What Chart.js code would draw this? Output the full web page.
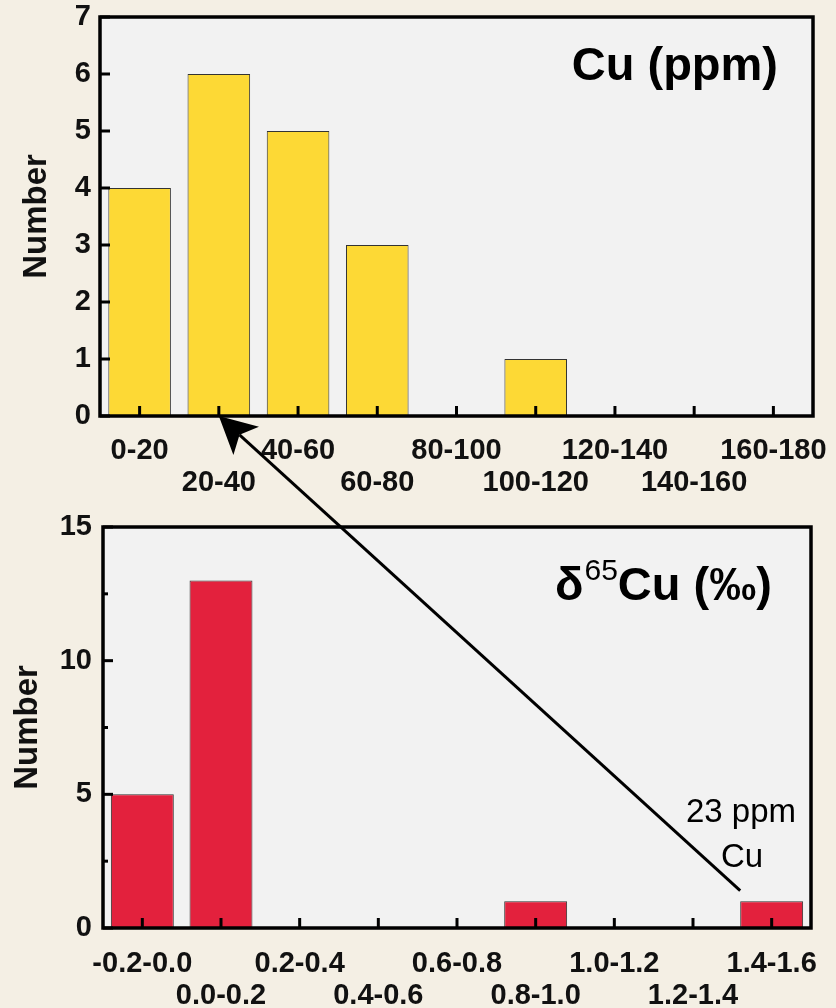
<!DOCTYPE html>
<html>
<head>
<meta charset="utf-8">
<script src="https://cdn.jsdelivr.net/npm/chart.js@4/dist/chart.umd.min.js"></script>
<style>
  html, body { margin: 0; padding: 0; background: #f4efe4; }
  #wrap { position: relative; width: 836px; height: 1008px; }
  canvas { position: absolute; left: 0; }
  #c1 { top: 0; }
  #c2 { top: 500px; }
  #ov { top: 0; pointer-events: none; }
</style>
</head>
<body>
<div id="wrap">
  <canvas id="c1" width="836" height="500"></canvas>
  <canvas id="c2" width="836" height="508"></canvas>
  <canvas id="ov" width="836" height="1008"></canvas>
</div>
<script>
// ---- data ----
const cuCategories = ['0-20', '20-40', '40-60', '60-80', '80-100', '100-120', '120-140', '140-160', '160-180'];
const cuCounts = [4, 6, 5, 3, 0, 1, 0, 0, 0];
const cuYMax = 7;
const cuYStep = 1;

const deltaCategories = ['-0.2-0.0', '0.0-0.2', '0.2-0.4', '0.4-0.6', '0.6-0.8', '0.8-1.0', '1.0-1.2', '1.2-1.4', '1.4-1.6'];
const deltaCounts = [5, 13, 0, 0, 0, 1, 0, 0, 1];
const deltaYMax = 15;
const deltaYMajor = 5;
const deltaYMinor = 2.5;

const cuTitle = 'Cu (ppm)';
const deltaTitleParts = ['δ', '65', 'Cu (‰)'];
const noteLines = ['23 ppm', 'Cu'];
const arrowTo = { x: 1, y: 0 };      // top chart, at 20-40 bin
const arrowFrom = { x: 7.6, y: 1.4 }; // bottom chart

// ---- styles ----
const FONT = '"Liberation Sans", Arial, Helvetica, sans-serif';
const PLOT_BG = '#f2f2f2';
const YELLOW = '#fdd935';
const RED = '#e3213d';

function stagger(labels) {
  return function (val, idx) {
    const l = labels[idx];
    return idx % 2 === 0 ? [l, ''] : ['', l];
  };
}

function framePlugin(opts) {
  return {
    id: 'frame',
    beforeDatasetsDraw(chart) {
      const { ctx, chartArea: a } = chart;
      ctx.save();
      ctx.fillStyle = PLOT_BG;
      ctx.fillRect(a.left, a.top, a.right - a.left, a.bottom - a.top);
      ctx.restore();
    },
    afterDatasetsDraw(chart) {
      const { ctx, chartArea: a, scales } = chart;
      ctx.save();
      ctx.strokeStyle = '#000';
      ctx.lineWidth = 3;
      ctx.lineCap = 'butt';
      for (let i = 0; i < chart.data.labels.length; i++) {
        const x = scales.x.getPixelForValue(i);
        ctx.beginPath();
        ctx.moveTo(x, a.bottom);
        ctx.lineTo(x, a.bottom - 10);
        ctx.stroke();
      }
      for (const t of opts.yTicks) {
        const y = scales.y.getPixelForValue(t.v);
        ctx.beginPath();
        ctx.moveTo(a.left, y);
        ctx.lineTo(a.left + t.len, y);
        ctx.stroke();
      }
      ctx.lineWidth = 3.5;
      ctx.strokeRect(a.left, a.top, a.right - a.left, a.bottom - a.top);
      ctx.restore();
      if (opts.extra) opts.extra(chart);
    }
  };
}

function baseOptions(o) {
  return {
    responsive: false,
    animation: false,
    devicePixelRatio: 1,
    layout: { padding: o.padding },
    plugins: { legend: { display: false }, tooltip: { enabled: false } },
    scales: {
      x: {
        type: 'category',
        grid: { display: false, drawTicks: false },
        border: { display: false },
        ticks: {
          autoSkip: false,
          maxRotation: 0,
          minRotation: 0,
          padding: o.xPad,
          color: '#111',
          font: { family: FONT, size: 29, weight: 'bold', lineHeight: 1.1 },
          callback: stagger(o.labels)
        },
        afterFit(s) { s.height = o.xHeight; s.paddingLeft = 0; s.paddingRight = 0; }
      },
      y: {
        min: 0,
        max: o.yMax,
        grid: { display: false, drawTicks: false },
        border: { display: false },
        ticks: {
          stepSize: o.yStep,
          padding: o.yPad,
          color: '#111',
          font: { family: FONT, size: 29, weight: 'bold' },
          callback: o.yCallback
        },
        title: {
          display: true,
          text: 'Number',
          color: '#111',
          font: { family: FONT, size: 33, weight: 'bold' },
          padding: { top: o.titlePad, bottom: 0 }
        },
        afterFit(s) { s.width = o.yWidth; s.paddingTop = 0; s.paddingBottom = 0; }
      }
    }
  };
}

// ---- top chart ----
const topYTicks = [];
for (let v = 0; v <= cuYMax; v += cuYStep) topYTicks.push({ v: v, len: 10 });

const chart1 = new Chart(document.getElementById('c1'), {
  type: 'bar',
  data: {
    labels: cuCategories,
    datasets: [{
      data: cuCounts,
      backgroundColor: YELLOW,
      borderColor: '#333',
      borderWidth: 1,
      barPercentage: 0.79,
      categoryPercentage: 1.0
    }]
  },
  options: baseOptions({
    padding: { left: 0, right: 23, top: 17, bottom: 0 },
    labels: cuCategories,
    xPad: 19, xHeight: 84,
    yMax: cuYMax, yStep: cuYStep, yPad: 9, yWidth: 100, titlePad: 17,
    yCallback: (v) => v
  }),
  plugins: [framePlugin({
    yTicks: topYTicks,
    extra(chart) {
      const { ctx, chartArea: a } = chart;
      ctx.save();
      ctx.fillStyle = '#000';
      ctx.font = 'bold 47px ' + FONT;
      ctx.textAlign = 'right';
      ctx.textBaseline = 'alphabetic';
      ctx.fillText(cuTitle, a.right - 35, a.top + 63);
      ctx.restore();
    }
  })]
});

// ---- bottom chart ----
const botYTicks = [];
for (let v = 0; v <= deltaYMax; v += deltaYMinor) {
  botYTicks.push({ v: v, len: (v % deltaYMajor === 0) ? 10 : 5 });
}

const chart2 = new Chart(document.getElementById('c2'), {
  type: 'bar',
  data: {
    labels: deltaCategories,
    datasets: [{
      data: deltaCounts,
      backgroundColor: RED,
      borderColor: '#333',
      borderWidth: 1,
      barPercentage: 0.8,
      categoryPercentage: 1.0
    }]
  },
  options: baseOptions({
    padding: { left: 0, right: 25, top: 27, bottom: 0 },
    labels: deltaCategories,
    xPad: 20, xHeight: 80,
    yMax: deltaYMax, yStep: deltaYMajor, yPad: 11, yWidth: 103, titlePad: 8,
    yCallback: (v) => v
  }),
  plugins: [framePlugin({
    yTicks: botYTicks,
    extra(chart) {
      const { ctx, chartArea: a } = chart;
      ctx.save();
      ctx.fillStyle = '#000';
      ctx.textBaseline = 'alphabetic';
      ctx.textAlign = 'left';
      let x = 555;
      const y = a.top + 73;
      ctx.font = 'bold 47px ' + FONT;
      ctx.fillText(deltaTitleParts[0], x, y);
      x += ctx.measureText(deltaTitleParts[0]).width + 1;
      ctx.font = '30px ' + FONT;
      ctx.fillText(deltaTitleParts[1], x, y - 20);
      x += ctx.measureText(deltaTitleParts[1]).width;
      ctx.font = 'bold 47px ' + FONT;
      ctx.fillText(deltaTitleParts[2], x, y);
      ctx.font = '33px ' + FONT;
      ctx.textAlign = 'center';
      ctx.fillText(noteLines[0], 741, a.top + 295);
      ctx.fillText(noteLines[1], 742, a.top + 340);
      ctx.restore();
    }
  })]
});

// ---- arrow overlay ----
(function drawArrow() {
  const ov = document.getElementById('ov');
  const ctx = ov.getContext('2d');
  const off1 = 0, off2 = 500;
  const tx = chart1.scales.x.getPixelForValue(arrowTo.x);
  const ty = chart1.scales.y.getPixelForValue(arrowTo.y) + off1;
  const fx = chart2.scales.x.getPixelForValue(arrowFrom.x);
  const fy = chart2.scales.y.getPixelForValue(arrowFrom.y) + off2;
  const dx = fx - tx, dy = fy - ty;
  const len = Math.hypot(dx, dy);
  const ux = dx / len, uy = dy / len;
  const px = -uy, py = ux;
  const hl = 37, hw = 19, notch = 28;
  ctx.strokeStyle = '#000';
  ctx.lineWidth = 3;
  ctx.beginPath();
  ctx.moveTo(fx, fy);
  ctx.lineTo(tx + ux * notch, ty + uy * notch);
  ctx.stroke();
  ctx.fillStyle = '#000';
  ctx.beginPath();
  ctx.moveTo(tx, ty);
  ctx.lineTo(tx + ux * hl + px * hw, ty + uy * hl + py * hw);
  ctx.lineTo(tx + ux * notch, ty + uy * notch);
  ctx.lineTo(tx + ux * hl - px * hw, ty + uy * hl - py * hw);
  ctx.closePath();
  ctx.fill();
})();
</script>
</body>
</html>
